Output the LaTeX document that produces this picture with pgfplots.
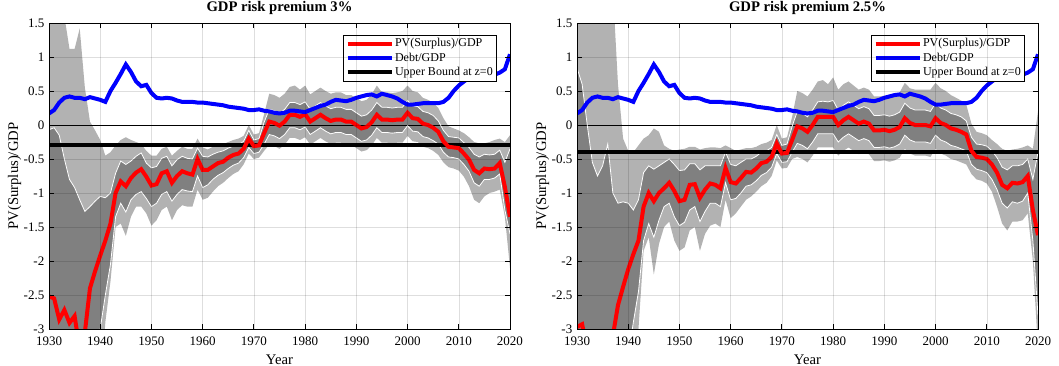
\documentclass[border=0pt]{standalone}
\usepackage{fontspec}
\setmainfont{Liberation Serif}
\usepackage{pgfplots}
\pgfplotsset{compat=1.18}
\usepackage{pgfplotstable}
\usepgfplotslibrary{fillbetween}

% GDP risk premium 3%
\pgfplotstableread{
year red blue iu il ou ol
1930 -2.52 0.17 -0.07 -4 3 -4
1931 -2.55 0.22 -0.04 -4 3 -4
1932 -2.86 0.33 -0.15 -4 2.5 -4
1933 -2.72 0.40 -0.50 -4 1.6 -4
1934 -2.91 0.42 -0.80 -4 1.12 -4
1935 -2.81 0.40 -0.92 -4 1.12 -4
1936 -3.30 0.40 -1.10 -4 1.42 -4
1937 -3.05 0.38 -1.27 -4 0.55 -4
1938 -2.40 0.41 -1.20 -4 0.05 -4
1939 -2.15 0.39 -1.12 -4 -0.08 -4
1940 -1.92 0.37 -1.05 -3.0 -0.22 -4
1941 -1.70 0.34 -1.07 -2.5 -0.45 -2.9
1942 -1.45 0.50 -1.00 -2.05 -0.40 -2.3
1943 -1.00 0.62 -0.71 -1.35 -0.30 -1.5
1944 -0.83 0.75 -0.53 -1.15 -0.22 -1.45
1945 -0.90 0.89 -0.58 -1.28 -0.18 -1.63
1946 -0.78 0.78 -0.53 -1.10 -0.22 -1.35
1947 -0.70 0.64 -0.46 -1.02 -0.25 -1.2
1948 -0.65 0.57 -0.41 -0.98 -0.28 -1.2
1949 -0.76 0.59 -0.56 -1.08 -0.38 -1.3
1950 -0.89 0.47 -0.63 -1.20 -0.45 -1.48
1951 -0.87 0.40 -0.61 -1.15 -0.45 -1.4
1952 -0.71 0.39 -0.49 -1.02 -0.35 -1.25
1953 -0.68 0.40 -0.46 -0.98 -0.32 -1.2
1954 -0.85 0.39 -0.60 -1.12 -0.45 -1.4
1955 -0.75 0.36 -0.51 -1.02 -0.38 -1.25
1956 -0.68 0.34 -0.46 -0.95 -0.32 -1.18
1957 -0.71 0.34 -0.49 -0.97 -0.35 -1.2
1958 -0.73 0.34 -0.50 -0.98 -0.35 -1.2
1959 -0.50 0.33 -0.34 -0.75 -0.20 -0.95
1960 -0.66 0.33 -0.46 -0.92 -0.33 -1.1
1961 -0.66 0.32 -0.47 -0.88 -0.36 -1.07
1962 -0.61 0.31 -0.43 -0.80 -0.32 -0.98
1963 -0.56 0.30 -0.40 -0.74 -0.30 -0.90
1964 -0.54 0.29 -0.38 -0.70 -0.28 -0.85
1965 -0.48 0.27 -0.34 -0.64 -0.25 -0.78
1966 -0.44 0.26 -0.31 -0.59 -0.22 -0.72
1967 -0.42 0.25 -0.29 -0.56 -0.20 -0.68
1968 -0.35 0.24 -0.24 -0.48 -0.16 -0.58
1969 -0.20 0.22 -0.08 -0.33 0.00 -0.42
1970 -0.31 0.22 -0.22 -0.42 -0.14 -0.50
1971 -0.30 0.23 -0.20 -0.40 -0.12 -0.48
1972 -0.12 0.21 0.04 -0.28 0.16 -0.38
1973 0.05 0.20 0.23 -0.14 0.46 -0.29
1974 0.03 0.18 0.21 -0.16 0.44 -0.31
1975 -0.01 0.17 0.17 -0.20 0.40 -0.35
1976 0.05 0.18 0.23 -0.14 0.46 -0.29
1977 0.15 0.21 0.33 -0.04 0.56 -0.19
1978 0.15 0.21 0.33 -0.04 0.58 -0.19
1979 0.12 0.20 0.30 -0.07 0.52 -0.22
1980 0.16 0.19 0.34 -0.03 0.58 -0.18
1981 0.05 0.22 0.23 -0.14 0.45 -0.29
1982 0.10 0.25 0.28 -0.09 0.50 -0.24
1983 0.15 0.28 0.33 -0.04 0.55 -0.19
1984 0.10 0.30 0.28 -0.09 0.50 -0.24
1985 0.06 0.34 0.24 -0.13 0.46 -0.28
1986 0.08 0.37 0.26 -0.11 0.48 -0.26
1987 0.08 0.36 0.26 -0.11 0.48 -0.26
1988 0.05 0.35 0.23 -0.14 0.44 -0.29
1989 0.05 0.37 0.23 -0.14 0.44 -0.29
1990 0.00 0.40 0.18 -0.19 0.40 -0.34
1991 -0.05 0.42 0.13 -0.24 0.35 -0.39
1992 -0.03 0.44 0.15 -0.22 0.37 -0.37
1993 0.04 0.45 0.22 -0.15 0.45 -0.30
1994 0.15 0.42 0.33 -0.04 0.58 -0.19
1995 0.08 0.46 0.26 -0.11 0.48 -0.26
1996 0.08 0.44 0.26 -0.11 0.48 -0.26
1997 0.07 0.42 0.25 -0.12 0.47 -0.27
1998 0.08 0.39 0.26 -0.11 0.48 -0.26
1999 0.08 0.34 0.26 -0.11 0.50 -0.26
2000 0.18 0.30 0.36 -0.01 0.58 -0.16
2001 0.10 0.30 0.28 -0.09 0.50 -0.24
2002 0.09 0.31 0.27 -0.10 0.48 -0.25
2003 0.02 0.32 0.20 -0.17 0.40 -0.32
2004 0.00 0.32 0.18 -0.19 0.37 -0.34
2005 -0.04 0.32 0.14 -0.23 0.33 -0.38
2006 -0.10 0.32 0.06 -0.28 0.25 -0.44
2007 -0.24 0.34 -0.08 -0.40 0.10 -0.55
2008 -0.32 0.40 -0.17 -0.47 -0.02 -0.62
2009 -0.33 0.50 -0.18 -0.48 -0.05 -0.64
2010 -0.34 0.58 -0.19 -0.50 -0.08 -0.67
2011 -0.42 0.64 -0.26 -0.58 -0.12 -0.76
2012 -0.51 0.69 -0.33 -0.68 -0.18 -0.90
2013 -0.66 0.72 -0.43 -0.85 -0.25 -1.10
2014 -0.71 0.74 -0.47 -0.90 -0.27 -1.15
2015 -0.64 0.74 -0.43 -0.80 -0.27 -1.05
2016 -0.65 0.75 -0.44 -0.80 -0.25 -1.00
2017 -0.64 0.74 -0.43 -0.78 -0.22 -0.98
2018 -0.56 0.77 -0.37 -0.72 -0.20 -0.95
2019 -0.91 0.82 -0.55 -1.25 -0.25 -1.35
2020 -1.35 1.04 -0.35 -1.60 -0.15 -2.10
}\dataA

% GDP risk premium 2.5%
\pgfplotstableread{
year red blue iu il ou ol
1930 -2.97 0.17 0.84 -4 3 -4
1931 -2.93 0.22 0.60 -4 3 -4
1932 -3.30 0.33 0.00 -4 3 -4
1933 -3.50 0.40 -0.55 -4 3 -4
1934 -3.60 0.42 -0.75 -4 3 -4
1935 -3.70 0.40 -0.60 -4 3 -4
1936 -3.60 0.40 -0.28 -4 3 -4
1937 -3.10 0.38 -1.00 -4 2.0 -4
1938 -2.65 0.41 -1.15 -4 0.6 -4
1939 -2.38 0.39 -1.13 -4 -0.2 -4
1940 -2.12 0.37 -1.15 -3.4 -0.38 -4
1941 -1.90 0.34 -1.25 -2.9 -0.40 -4
1942 -1.70 0.50 -1.10 -2.45 -0.30 -3.0
1943 -1.20 0.62 -0.70 -1.70 -0.20 -1.85
1944 -1.00 0.75 -0.60 -1.45 -0.15 -1.65
1945 -1.12 0.89 -0.65 -1.65 -0.05 -2.2
1946 -1.00 0.78 -0.60 -1.40 -0.10 -1.75
1947 -0.93 0.64 -0.55 -1.20 -0.30 -1.5
1948 -0.85 0.57 -0.50 -1.15 -0.35 -1.42
1949 -0.97 0.59 -0.58 -1.35 -0.38 -1.7
1950 -1.12 0.47 -0.67 -1.48 -0.36 -1.85
1951 -1.10 0.40 -0.66 -1.43 -0.35 -1.8
1952 -0.88 0.39 -0.57 -1.25 -0.32 -1.55
1953 -0.87 0.40 -0.57 -1.20 -0.32 -1.5
1954 -1.07 0.39 -0.66 -1.42 -0.36 -1.85
1955 -0.95 0.36 -0.60 -1.27 -0.34 -1.6
1956 -0.86 0.34 -0.60 -1.15 -0.33 -1.48
1957 -0.88 0.34 -0.60 -1.15 -0.33 -1.45
1958 -0.93 0.34 -0.60 -1.20 -0.34 -1.5
1959 -0.63 0.33 -0.40 -0.85 -0.30 -1.1
1960 -0.84 0.33 -0.58 -1.10 -0.34 -1.37
1961 -0.86 0.32 -0.60 -1.08 -0.38 -1.3
1962 -0.78 0.31 -0.55 -1.00 -0.36 -1.2
1963 -0.69 0.30 -0.50 -0.90 -0.34 -1.1
1964 -0.70 0.29 -0.50 -0.88 -0.34 -1.05
1965 -0.64 0.27 -0.46 -0.82 -0.32 -0.98
1966 -0.56 0.26 -0.40 -0.74 -0.28 -0.9
1967 -0.54 0.25 -0.38 -0.70 -0.26 -0.85
1968 -0.47 0.24 -0.33 -0.62 -0.22 -0.75
1969 -0.27 0.22 -0.14 -0.42 0.00 -0.52
1970 -0.42 0.22 -0.30 -0.55 -0.20 -0.64
1971 -0.41 0.23 -0.28 -0.54 -0.18 -0.63
1972 -0.22 0.21 -0.02 -0.40 0.12 -0.50
1973 -0.02 0.20 0.20 -0.27 0.50 -0.47
1974 -0.05 0.18 0.17 -0.30 0.47 -0.50
1975 -0.10 0.17 0.12 -0.35 0.42 -0.55
1976 0.00 0.18 0.22 -0.25 0.52 -0.45
1977 0.12 0.21 0.34 -0.13 0.64 -0.33
1978 0.12 0.21 0.35 -0.13 0.66 -0.33
1979 0.12 0.20 0.34 -0.13 0.60 -0.33
1980 0.12 0.19 0.36 -0.13 0.70 -0.33
1981 0.00 0.22 0.22 -0.25 0.52 -0.45
1982 0.07 0.25 0.29 -0.18 0.60 -0.38
1983 0.12 0.28 0.34 -0.13 0.64 -0.33
1984 0.07 0.30 0.29 -0.18 0.58 -0.38
1985 0.02 0.34 0.24 -0.23 0.52 -0.43
1986 0.05 0.37 0.27 -0.20 0.55 -0.40
1987 0.02 0.36 0.24 -0.23 0.52 -0.43
1988 -0.08 0.35 0.14 -0.33 0.42 -0.53
1989 -0.08 0.37 0.14 -0.33 0.42 -0.53
1990 -0.07 0.40 0.15 -0.32 0.43 -0.52
1991 -0.09 0.42 0.13 -0.34 0.41 -0.54
1992 -0.07 0.44 0.15 -0.32 0.43 -0.52
1993 -0.03 0.45 0.19 -0.28 0.48 -0.48
1994 0.10 0.42 0.32 -0.15 0.62 -0.35
1995 0.03 0.46 0.25 -0.22 0.54 -0.42
1996 0.00 0.44 0.22 -0.25 0.52 -0.45
1997 0.00 0.42 0.22 -0.25 0.52 -0.45
1998 0.00 0.39 0.22 -0.25 0.52 -0.45
1999 -0.02 0.34 0.20 -0.27 0.52 -0.47
2000 0.10 0.30 0.32 -0.15 0.62 -0.35
2001 0.03 0.30 0.25 -0.22 0.54 -0.42
2002 0.00 0.31 0.22 -0.25 0.50 -0.45
2003 -0.05 0.32 0.17 -0.30 0.44 -0.50
2004 -0.07 0.32 0.15 -0.32 0.40 -0.52
2005 -0.10 0.32 0.12 -0.35 0.36 -0.55
2006 -0.14 0.32 0.06 -0.38 0.30 -0.58
2007 -0.38 0.34 -0.18 -0.58 0.02 -0.72
2008 -0.47 0.40 -0.28 -0.65 -0.10 -0.80
2009 -0.48 0.50 -0.29 -0.67 -0.12 -0.82
2010 -0.50 0.58 -0.31 -0.70 -0.15 -0.86
2011 -0.58 0.64 -0.38 -0.80 -0.22 -0.98
2012 -0.70 0.69 -0.48 -0.95 -0.28 -1.2
2013 -0.88 0.72 -0.62 -1.15 -0.35 -1.45
2014 -0.93 0.74 -0.66 -1.22 -0.38 -1.55
2015 -0.85 0.74 -0.60 -1.13 -0.36 -1.42
2016 -0.86 0.75 -0.60 -1.15 -0.35 -1.42
2017 -0.84 0.74 -0.58 -1.12 -0.33 -1.40
2018 -0.75 0.77 -0.50 -1.00 -0.30 -1.30
2019 -1.25 0.82 -0.80 -1.70 -0.35 -2.0
2020 -1.62 1.04 -0.40 -2.80 0.20 -3.3
}\dataB

\pgfplotsset{
  myaxis/.style={
    scale only axis, width=345.75bp, height=229.5bp,
    xmin=1930, xmax=2020, ymin=-3, ymax=1.5,
    xtick={1930,1940,...,2020},
    ytick={-3,-2.5,-2,-1.5,-1,-0.5,0,0.5,1,1.5},
    grid=major, grid style={black, opacity=0.13, line width=0.4bp},
    axis on top,
    tick align=inside, major tick length=3.75bp,
    axis line style={line width=0.6bp},
    every tick/.style={black, line width=0.6bp},
    /pgf/number format/assume math mode=true,
    x tick label style={/pgf/number format/1000 sep={}, yshift=-2.25bp},
    ticklabel style={font=\fontsize{9.75bp}{11bp}\selectfont},
    label style={font=\fontsize{11bp}{13bp}\selectfont},
    ylabel shift=-5bp,
    title style={font=\bfseries\fontsize{11bp}{13bp}\selectfont,
      at={(0.5,1)}, anchor=base, yshift=2.8bp},
    xlabel={Year}, ylabel={PV(Surplus)/GDP},
    legend style={at={(0.972,0.961)}, anchor=north east, draw=black,
      line width=0.5bp, fill=white, font=\fontsize{9bp}{10bp}\selectfont,
      inner xsep=2bp, inner ysep=1.5bp, row sep=1bp,
      nodes={inner sep=1bp}},
    legend cell align=left,
    legend image code/.code={\draw[##1] (0bp,0bp) -- (33bp,0bp);},
  }
}

\newcommand{\panel}[3]{%
  \addplot [black, line width=0.6bp, forget plot] coordinates {(1930,0) (2020,0)};
  \addplot [draw=none, name path=#3ou, forget plot] table [x=year,y=ou] {#1};
  \addplot [draw=none, name path=#3ol, forget plot] table [x=year,y=ol] {#1};
  \addplot [black!30, forget plot] fill between [of=#3ou and #3ol];
  \addplot [draw=none, name path=#3iu, forget plot] table [x=year,y=iu] {#1};
  \addplot [draw=none, name path=#3il, forget plot] table [x=year,y=il] {#1};
  \addplot [black!50, forget plot] fill between [of=#3iu and #3il];
  \addplot [white, line width=0.6bp, forget plot] table [x=year,y=iu] {#1};
  \addplot [white, line width=0.6bp, forget plot] table [x=year,y=il] {#1};
  \addplot [black, line width=3bp, forget plot] coordinates {(1930,#2) (2020,#2)};
  \addplot [red, line width=3bp, forget plot] table [x=year,y=red] {#1};
  \addplot [blue, line width=3bp, forget plot] table [x=year,y=blue] {#1};
  \addlegendimage{red, line width=3bp}
  \addlegendentry{PV(Surplus)/GDP}
  \addlegendimage{blue, line width=3bp}
  \addlegendentry{Debt/GDP}
  \addlegendimage{black, line width=3bp}
  \addlegendentry{Upper Bound at z=0}
}

\begin{document}
\begin{tikzpicture}
\begin{axis}[myaxis, at={(0bp,0bp)}, anchor=south west,
  title={GDP risk premium 3\%}]
  \panel{\dataA}{-0.3}{a}
\end{axis}
\begin{axis}[myaxis, at={(396bp,0bp)}, anchor=south west,
  title={GDP risk premium 2.5\%}]
  \panel{\dataB}{-0.4}{b}
\end{axis}
\pgfresetboundingbox
\path[use as bounding box] (-36.75bp,-27.75bp) rectangle (757.5bp,246.75bp);
\end{tikzpicture}
\end{document}
